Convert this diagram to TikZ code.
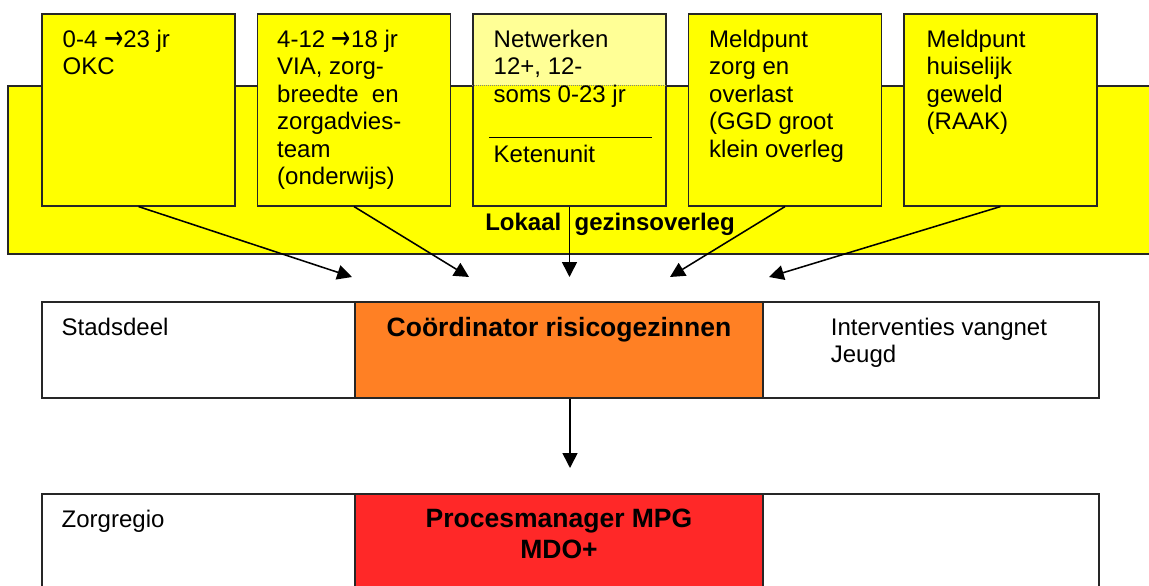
\documentclass[tikz,border=0pt]{standalone}
\usepackage{graphicx}
\usepackage{fontspec}
\setmainfont{Liberation Sans}
\newfontfamily\arrowfont{DejaVu Sans}
\usetikzlibrary{arrows.meta,positioning,calc}
\definecolor{ylw}{RGB}{255,255,0}
\definecolor{ylwpale}{RGB}{255,255,150}
\definecolor{crorange}{RGB}{255,128,36}
\definecolor{pmred}{RGB}{255,40,40}
\newcommand{\pxu}{0.025cm}
\newcommand{\toage}{{\arrowfont\fontsize{24pt}{24pt}\selectfont\raisebox{-1.7pt}{\scalebox{0.68}[1]{→}}}}
\tikzset{
  >={Triangle[length=10.5pt,width=10.5pt]},
  frame/.style = {draw=black!85, line width=0.8pt, inner sep=0pt},
  topbox/.style = {frame, fill=ylw, minimum width=193*\pxu, minimum height=192*\pxu},
  rowbox/.style = {frame, fill=white, minimum width=1057*\pxu, minimum height=96*\pxu},
  midbox/.style = {frame, minimum width=408*\pxu, minimum height=96*\pxu},
  txt/.style = {anchor=north west, inner sep=0pt, align=left, font={\fontsize{17.07pt}{19.56pt}\selectfont}},
  head/.style = {anchor=north, inner sep=0pt, align=center, font={\fontsize{18.85pt}{22.05pt}\selectfont\bfseries}},
  arr/.style = {->, line width=1.1pt}
}

\begin{document}
\begin{tikzpicture}[x=\pxu, y=-\pxu]
\useasboundingbox (0,0) rectangle (1149,585);

% Lokaal gezinsoverleg
\node[frame, fill=ylw, minimum width=1152*\pxu, minimum height=168*\pxu] (bg) at (584,170) {};
\node[txt, font={\fontsize{17.07pt}{19.56pt}\selectfont\bfseries}] (lok) at (485,213) {Lokaal\ \ gezinsoverleg};

% partners
\node[topbox] (b1) at (138.5,110) {};
\node[topbox] (b2) at (354,110) {};
\node[topbox, path picture={\fill[ylwpale] (path picture bounding box.north west) rectangle (path picture bounding box.east |- bg.north);}] (b3) at (569.5,110) {};
\node[topbox] (b4) at (785,110) {};
\node[topbox] (b5) at (1000.5,110) {};
\draw[densely dotted, black!50] (b3.west |- bg.north) -- (b3.east |- bg.north);

\node[txt] (t1) at ($(b1.north west)+(21,16)$) {0-4 \toage23 jr\\OKC};
\node[txt] (t2) at ($(b2.north west)+(20,16)$) {4-12 \toage18 jr\\VIA, zorg-\\breedte\ \ en\\zorgadvies-\\team\\(onderwijs)};
\node[txt] (t3) at ($(b3.north west)+(21,16)$) {Netwerken\\12+, 12-\\soms 0-23 jr};
\draw[line width=0.8pt] ($(b3.north west)+(17,124)$) -- ($(b3.north east)+(-15,124)$);
\node[txt] (t3b) at ($(b3.north west)+(21,131)$) {Ketenunit};
\node[txt] (t4) at ($(b4.north west)+(21,16)$) {Meldpunt\\zorg en\\overlast\\(GGD groot\\klein overleg};
\node[txt] (t5) at ($(b5.north west)+(23,16)$) {Meldpunt\\huiselijk\\geweld\\(RAAK)};

% Stadsdeel
\node[rowbox] (sd) at (570.5,350) {};
\node[midbox, fill=crorange] (cr) at (559,350) {};
\node[txt] (sdl) at ($(sd.north west)+(20,16)$) {Stadsdeel};
\node[head] (crl) at ($(cr.north)+(0,15.5)$) {Coördinator risicogezinnen};
\node[txt] (ivj) at ($(cr.north east)+(67,16)$) {Interventies vangnet\\Jeugd};

% Zorgregio
\node[rowbox, minimum height=106*\pxu] (zr) at (570.5,547) {};
\node[midbox, fill=pmred, minimum height=106*\pxu] (pm) at (559,547) {};
\node[txt] (zrl) at ($(zr.north west)+(20,16)$) {Zorgregio};
\node[head] (pml) at ($(pm.north)+(0,15)$) {Procesmanager MPG\\MDO+};

% arrows
\coordinate (p1) at (352,277);
\coordinate (p2) at (469,277);
\coordinate (p4) at (670,277);
\coordinate (p5) at (769,277);
\coordinate (p6) at (570,468);
\draw[arr] (b1.south) -- (p1);
\draw[arr] (b2.south) -- (p2);
\draw[arr] (b3.south) -- (b3.south |- p1);
\draw[arr] (b4.south) -- (p4);
\draw[arr] (b5.south) -- (p5);
\draw[arr] (p6 |- cr.south) -- (p6);
\end{tikzpicture}
\end{document}
